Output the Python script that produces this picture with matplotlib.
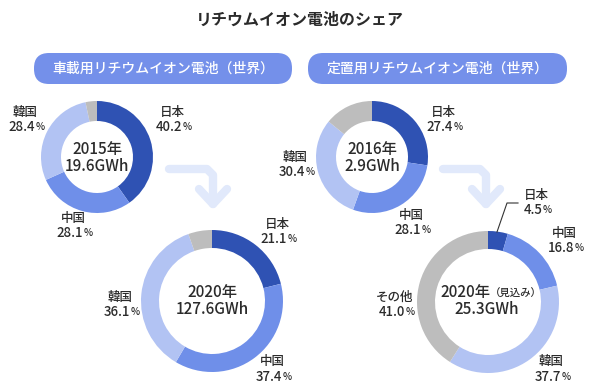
import matplotlib
matplotlib.use("Agg")
from matplotlib import pyplot as plt
from matplotlib.patches import FancyBboxPatch

plt.rcParams['font.family'] = ['Noto Sans CJK JP', 'DejaVu Sans']

# data
countries = ['日本', '中国', '韓国', 'その他']
car_2015 = [40.2, 28.1, 28.4, 3.3]
car_2020 = [21.1, 37.4, 36.1, 5.4]
st_2016 = [27.4, 28.1, 30.4, 14.1]
st_2020 = [4.5, 16.8, 37.7, 41.0]

title = 'リチウムイオン電池のシェア'
group_titles = ['車載用リチウムイオン電池（世界）', '定置用リチウムイオン電池（世界）']

colors = ['#2f52b3', '#6f8fe9', '#b2c3f3', '#bdbdbd']
pill_color = '#7490ea'
arrow_color = '#e1e9fb'
txt = '#2b2b2b'

W, H = 600, 389
fig = plt.figure(figsize=(6, 3.89), dpi=100)
ax = fig.add_axes([0, 0, 1, 1])


def Y(y):
    # pixel row (from top) -> data y
    return H - y


def donut(vals, cx, cy, r, w):
    ax.pie(vals, colors=colors, startangle=90, counterclock=False,
           center=(cx, Y(cy)), radius=r,
           wedgeprops=dict(width=w, linewidth=0))


def label(name, val, x, y):
    ax.text(x, Y(y), name, ha='center', va='center', fontsize=9,
            color=txt, fontweight='medium')
    t = ax.text(x - 3, Y(y + 15), f'{val:.1f}', ha='center', va='center',
                fontsize=9.5, color=txt, fontweight='medium')
    ax.annotate('%', xy=(1, 0.12), xycoords=t, ha='left', va='bottom',
                fontsize=7, color=txt, fontweight='medium')


def center_text(line1, line2, cx, cy, extra=None, dx=0):
    t = ax.text(cx + dx, Y(cy - 8), line1, ha='center', va='center',
                fontsize=11, color=txt, fontweight='medium')
    if extra:
        ax.annotate(extra, xy=(1, 0.45), xycoords=t, ha='left', va='center',
                    fontsize=7.5, color=txt, fontweight='medium')
    ax.text(cx, Y(cy + 9), line2, ha='center', va='center', fontsize=11,
            color=txt, fontweight='medium')


def arrow(x0, x1, y0, y1):
    kw = dict(color=arrow_color, lw=6, solid_capstyle='round',
              solid_joinstyle='round', zorder=0)
    ax.plot([x0, x1 - 6, x1, x1], [Y(y0), Y(y0), Y(y0 + 6), Y(y1)], **kw)
    ax.plot([x1 - 14, x1, x1 + 14], [Y(y1 - 15), Y(y1), Y(y1 - 15)], **kw)


# title
ax.text(300, Y(20), title, ha='center', va='center', fontsize=11.5,
        fontweight='bold', color=txt)

# group pills
for (x0, x1), s in zip([(34, 292), (308, 567)], group_titles):
    ax.add_patch(FancyBboxPatch((x0 + 15, Y(84) + 15), x1 - x0 - 30, 1,
                                boxstyle='round,pad=15', fc=pill_color,
                                ec='none', mutation_aspect=1))
    ax.text((x0 + x1) / 2, Y(69), s, ha='center', va='center', fontsize=10,
            color='white', fontweight='medium')

# arrows
arrow(169, 213, 169, 204)
arrow(443, 486, 169, 204)

# donuts
donut(car_2015, 97, 157, 56, 20)
donut(st_2016, 372, 157, 56, 20)
donut(car_2020, 212, 301, 71, 18)
donut(st_2020, 488, 302, 71, 18)

# top-left labels
label(countries[0], car_2015[0], 172, 112)
label(countries[1], car_2015[1], 73, 218)
label(countries[2], car_2015[2], 25, 112)
center_text('2015年', '19.6GWh', 97, 157)

# top-right labels
label(countries[0], st_2016[0], 443, 112)
label(countries[1], st_2016[1], 411, 215)
label(countries[2], st_2016[2], 295, 157)
center_text('2016年', '2.9GWh', 372, 157)

# bottom-left labels
label(countries[0], car_2020[0], 277, 224)
label(countries[1], car_2020[1], 272, 362)
label(countries[2], car_2020[2], 120, 297)
center_text('2020年', '127.6GWh', 212, 300)

# bottom-right labels
label(countries[0], st_2020[0], 536, 195)
label(countries[1], st_2020[1], 564, 233)
label(countries[2], st_2020[2], 551, 362)
label(countries[3], st_2020[3], 395, 297)
ax.plot([518, 507, 497], [Y(203), Y(203), Y(232)], color='#333333', lw=0.8)
center_text('2020年', '25.3GWh', 487, 301, extra='（見込み）', dx=-22)

ax.set_xlim(0, W)
ax.set_ylim(0, H)
ax.set_aspect('equal')
ax.axis('off')

fig.savefig('out.png', dpi=100, facecolor='white')
